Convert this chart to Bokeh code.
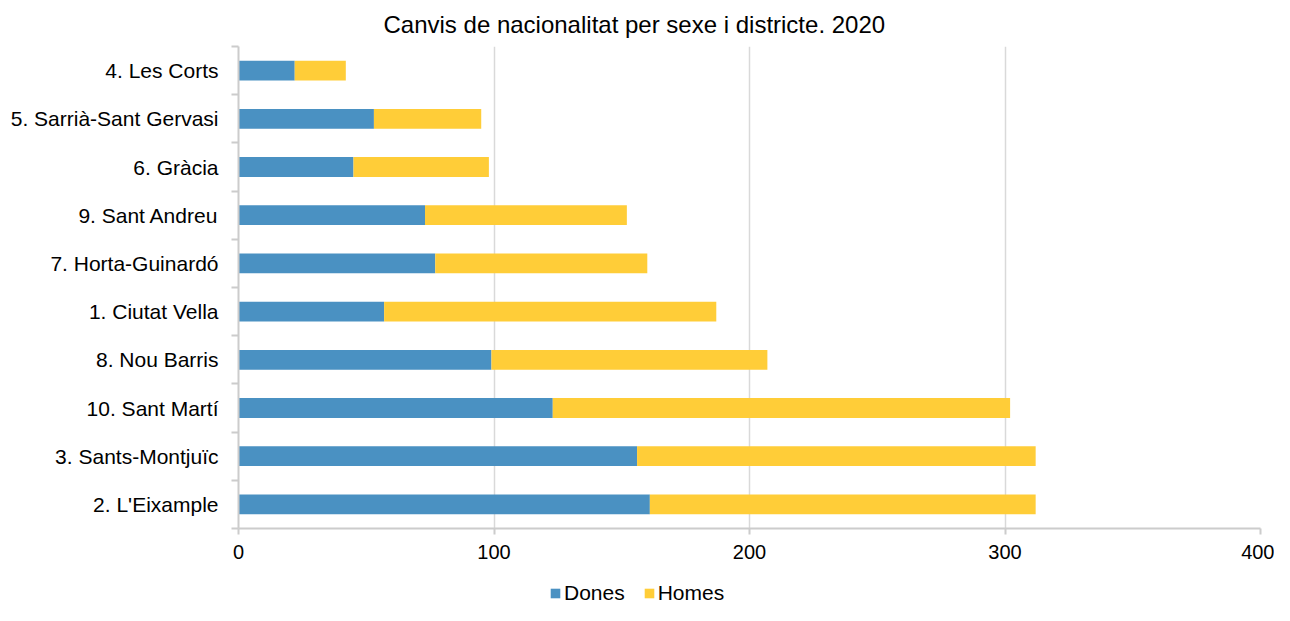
import numpy as np
from bokeh.plotting import figure
from bokeh.layouts import column
from bokeh.models import (ColumnDataSource, FixedTicker, LinearAxis, Range1d,
                          Legend, LegendItem, Title, Grid)
from bokeh.embed import file_html
from bokeh.resources import INLINE

# Data (top to bottom as shown)
districts = ["4. Les Corts", "5. Sarrià-Sant Gervasi", "6. Gràcia", "9. Sant Andreu",
             "7. Horta-Guinardó", "1. Ciutat Vella", "8. Nou Barris", "10. Sant Martí",
             "3. Sants-Montjuïc", "2. L'Eixample"]
dones = [22, 53, 45, 73, 77, 57, 99, 123, 156, 161]
homes = [20, 42, 53, 79, 83, 130, 108, 179, 156, 151]
x_ticks = [0, 100, 200, 300, 400]
series = ["Dones", "Homes"]
colors = ["#4a91c2", "#ffcd38"]

# bottom-to-top order for numeric y positions
n = len(districts)
cats = districts[::-1]
d_rev = np.array(dones[::-1])
h_rev = np.array(homes[::-1])
ypos = np.arange(n) + 0.5

src = ColumnDataSource(dict(y=ypos, cat=cats, dones=d_rev, homes=h_rev,
                            d_end=d_rev, h_end=d_rev + h_rev, zero=np.zeros(n)))

FONT = "Liberation Sans"
W = 1274

p = figure(width=W, height=578, output_backend="svg", toolbar_location=None,
           x_range=Range1d(0, 400), y_range=Range1d(0, n),
           min_border_left=238, min_border_right=14, min_border_top=45,
           min_border_bottom=50, outline_line_color=None,
           x_axis_location=None, y_axis_location=None)

r1 = p.hbar(y="y", left="zero", right="d_end", height=0.41, source=src,
            fill_color=colors[0], line_color=None)
r2 = p.hbar(y="y", left="d_end", right="h_end", height=0.41, source=src,
            fill_color=colors[1], line_color=None)

# X axis
xaxis = LinearAxis(ticker=FixedTicker(ticks=x_ticks, minor_ticks=[]))
xaxis.axis_line_color = "#cccccc"
xaxis.axis_line_width = 2
xaxis.major_tick_line_color = "#cccccc"
xaxis.major_tick_line_width = 2
xaxis.major_tick_in = 0
xaxis.major_tick_out = 6
xaxis.major_label_text_font = FONT
xaxis.major_label_text_font_size = "20px"
xaxis.major_label_text_color = "#000000"
xaxis.major_label_standoff = 10
p.add_layout(xaxis, "below")

# Y axis: labels at centers, ticks at category boundaries
yaxis = LinearAxis(ticker=FixedTicker(ticks=list(ypos), minor_ticks=list(range(n + 1))))
yaxis.major_label_overrides = {float(y): c for y, c in zip(ypos, cats)}
yaxis.axis_line_color = "#cccccc"
yaxis.axis_line_width = 2
yaxis.major_tick_line_color = None
yaxis.major_tick_in = 0
yaxis.major_tick_out = 0
yaxis.minor_tick_line_color = "#cccccc"
yaxis.minor_tick_line_width = 2
yaxis.minor_tick_in = 0
yaxis.minor_tick_out = 7
yaxis.major_label_text_font = FONT
yaxis.major_label_text_font_size = "21px"
yaxis.major_label_text_color = "#000000"
yaxis.major_label_standoff = 13
p.add_layout(yaxis, "left")

p.xgrid.visible = False
p.ygrid.visible = False
g = Grid(dimension=0, ticker=FixedTicker(ticks=x_ticks[1:]),
         grid_line_color="#d9d9d9", grid_line_width=1.5)
p.add_layout(g)

# Title
t = Title(text="Canvis de nacionalitat per sexe i districte. 2020", align="left",
          offset=145, standoff=17, text_font=FONT, text_font_size="24px",
          text_font_style="normal", text_color="#000000")
p.add_layout(t, "above")

# Legend strip below the chart (zero-area swatch glyphs only feed the legend)
lg = figure(width=W, height=27, output_backend="svg", toolbar_location=None,
            x_range=Range1d(0, 1), y_range=Range1d(0, 1),
            min_border_left=0, min_border_right=0, min_border_top=0,
            min_border_bottom=0, outline_line_color=None,
            x_axis_location=None, y_axis_location=None)
lg.xgrid.visible = False
lg.ygrid.visible = False
swatch = ColumnDataSource(dict(l=[0], r=[0], b=[0], t=[0]))
k1 = lg.quad(left="l", right="r", bottom="b", top="t", source=swatch,
             fill_color=colors[0], line_color=None)
k2 = lg.quad(left="l", right="r", bottom="b", top="t", source=swatch,
             fill_color=colors[1], line_color=None)
legend = Legend(items=[LegendItem(label=series[0], renderers=[k1]),
                       LegendItem(label=series[1], renderers=[k2])],
                orientation="horizontal", location=(311, 0),
                label_text_font=FONT, label_text_font_size="21px",
                label_text_color="#000000", glyph_width=12, glyph_height=12,
                spacing=18, label_standoff=3, padding=0, margin=0,
                background_fill_alpha=0, border_line_color=None)
lg.add_layout(legend, "center")

open("out.html", "w").write(file_html(column(p, lg, spacing=0), INLINE))
